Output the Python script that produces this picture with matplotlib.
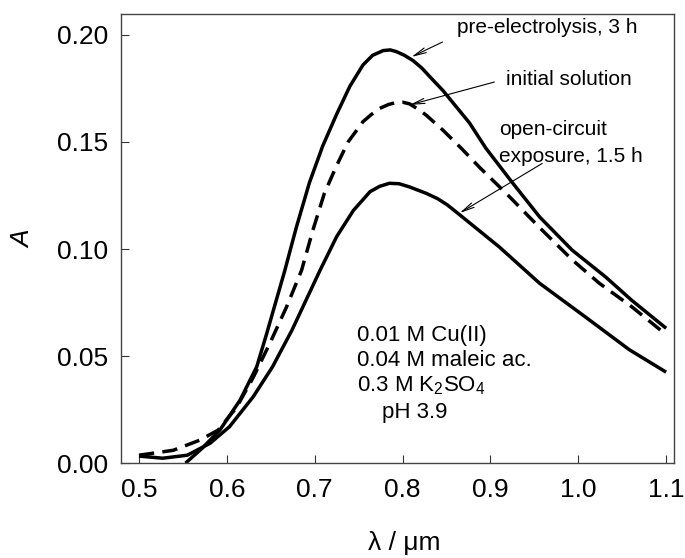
import matplotlib
matplotlib.use("Agg")
from matplotlib import pyplot as plt

# absorbance spectra
pre_x = [0.553, 0.572, 0.592, 0.615, 0.634, 0.645, 0.666, 0.679, 0.694, 0.709,
         0.725, 0.740, 0.755, 0.766, 0.778, 0.786, 0.793, 0.802, 0.812, 0.822,
         0.831, 0.846, 0.861, 0.876, 0.895, 0.925, 0.956, 0.993, 1.031, 1.061,
         1.1]
pre_y = [0.0, 0.007, 0.0154, 0.0294, 0.045, 0.060, 0.090, 0.110, 0.131, 0.148,
         0.163, 0.176, 0.186, 0.1905, 0.1927, 0.1930, 0.1922, 0.1905, 0.188, 0.1845,
         0.1805, 0.174, 0.1665, 0.159, 0.147, 0.131, 0.115, 0.0995, 0.087, 0.076,
         0.063]

init_x = [0.5, 0.539, 0.569, 0.590, 0.611, 0.630, 0.649, 0.668, 0.685, 0.698,
          0.711, 0.725, 0.738, 0.755, 0.765, 0.774, 0.784, 0.793, 0.800, 0.808,
          0.817, 0.827, 0.846, 0.867, 0.888, 0.918, 0.956, 0.993, 1.024, 1.061,
          1.1]
init_y = [0.0037, 0.006, 0.0107, 0.0154, 0.026, 0.040, 0.056, 0.073, 0.090, 0.1089,
          0.126, 0.139, 0.150, 0.1595, 0.163, 0.1657, 0.1675, 0.1685, 0.1686, 0.1678,
          0.1655, 0.1625, 0.1555, 0.147, 0.138, 0.126, 0.110, 0.095, 0.084, 0.073,
          0.060]

ocp_x = [0.5, 0.527, 0.555, 0.581, 0.603, 0.630, 0.652, 0.674, 0.706, 0.725,
         0.744, 0.763, 0.774, 0.785, 0.796, 0.808, 0.827, 0.840, 0.851, 0.865,
         0.910, 0.956, 1.009, 1.058, 1.1]
ocp_y = [0.0033, 0.0023, 0.0037, 0.0093, 0.017, 0.031, 0.045, 0.062, 0.090, 0.1058,
         0.118, 0.1268, 0.1293, 0.1307, 0.1305, 0.129, 0.126, 0.1235, 0.1206, 0.116,
         0.101, 0.084, 0.068, 0.053, 0.0425]

x_ticks = [0.5, 0.6, 0.7, 0.8, 0.9, 1.0, 1.1]
y_ticks = [0.00, 0.05, 0.10, 0.15, 0.20]

plt.rcParams['font.family'] = ['Liberation Sans', 'DejaVu Sans']
plt.rcParams['mathtext.fontset'] = 'custom'
plt.rcParams['mathtext.rm'] = 'Liberation Sans'

fig = plt.figure(figsize=(6.85, 5.58), dpi=100)
ax = fig.add_axes([0.1766, 0.170, 0.8074, 0.805])

lw = 2.5
ax.plot(pre_x, pre_y, color='black', lw=lw, solid_capstyle='butt',
        solid_joinstyle='round')
ax.plot(init_x, init_y, color='black', lw=lw, linestyle=(0, (4.4, 2.4)),
        dash_capstyle='butt', dash_joinstyle='round')
ax.plot(ocp_x, ocp_y, color='black', lw=lw, solid_capstyle='butt',
        solid_joinstyle='round')

ax.set_xlim(0.4795, 1.109)
ax.set_ylim(0.0, 0.2098)
ax.set_xticks(x_ticks)
ax.set_xticklabels([f"{v:.1f}" for v in x_ticks])
ax.set_yticks(y_ticks)
ax.set_yticklabels([f"{v:.2f}" for v in y_ticks])
ax.tick_params(direction='in', length=6, width=0.8, labelsize=19,
               color='#333333')
ax.tick_params(axis='x', pad=11)
ax.tick_params(axis='y', pad=9)
for sp in ax.spines.values():
    sp.set_linewidth(1.0)
    sp.set_color('#444444')

# axis labels
fig.text(23 / 685, 1 - 239 / 558, 'A', style='italic', fontsize=19,
         rotation=90, ha='center', va='center')
fig.text(404 / 685, 1 - 543 / 558, 'λ / μm', fontsize=19,
         ha='center', va='center')

# annotations with thin arrows
arrow = dict(arrowstyle='->,head_length=0.9,head_width=0.18', lw=0.8,
             color='black', shrinkA=0, shrinkB=0)
fs = 15
ax.annotate('', xy=(0.810, 0.1897), xytext=(0.8455, 0.1967), arrowprops=arrow)
ax.text(0.8625, 0.2033, 'pre-electrolysis, 3 h', fontsize=fs, va='center')
ax.annotate('', xy=(0.808, 0.1673), xytext=(0.9045, 0.178), arrowprops=arrow)
ax.text(0.918, 0.179, 'initial solution', fontsize=fs, va='center')
ax.annotate('', xy=(0.865, 0.1168), xytext=(0.959, 0.140), arrowprops=arrow)
ax.text(0.910, 0.1556, 'open-circuit', fontsize=fs, va='center')
ax.text(0.910, 0.1430, 'exposure, 1.5 h', fontsize=fs, va='center')

# solution composition
fs2 = 16
ax.text(0.7477, 0.0598, '0.01 M Cu(II)', fontsize=fs2, va='center')
ax.text(0.7477, 0.0481, '0.04 M maleic ac.', fontsize=fs2, va='center')
ax.text(0.7477, 0.0364, '0.3 M K$_2$SO$_4$', fontsize=fs2, va='center')
ax.text(0.777, 0.0238, 'pH 3.9', fontsize=fs2, va='center')

fig.savefig('out.png', dpi=100)
